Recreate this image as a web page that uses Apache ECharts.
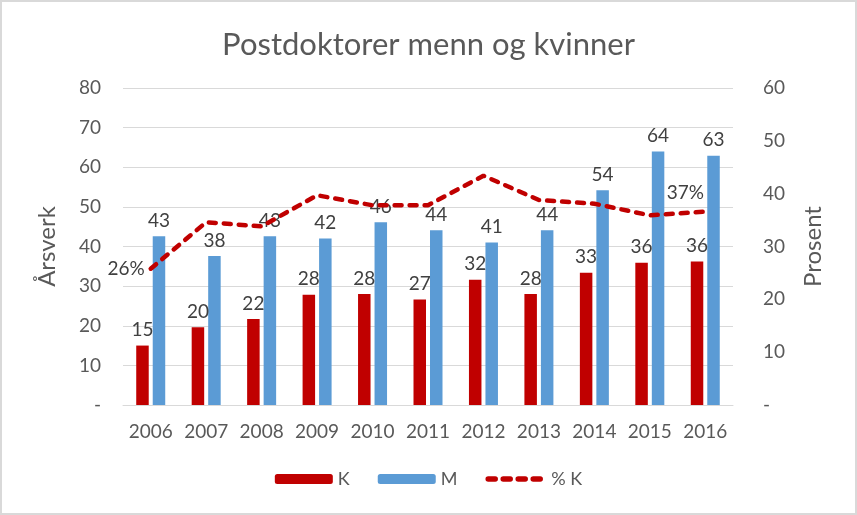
<!DOCTYPE html>
<html>
<head>
<meta charset="utf-8">
<script src="https://cdn.jsdelivr.net/npm/echarts@6/dist/echarts.min.js"></script>
<style>
html,body{margin:0;padding:0;background:#fff;}
#c{width:857px;height:515px;}
</style>
</head>
<body>
<div id="c"></div>
<script>
const categories = ['2006','2007','2008','2009','2010','2011','2012','2013','2014','2015','2016'];
const kValues = [15.0, 19.6, 21.7, 27.8, 28.0, 26.6, 31.6, 28.0, 33.4, 35.9, 36.2];
const mValues = [42.6, 37.6, 42.6, 42.0, 46.1, 44.1, 41.0, 44.1, 54.2, 64.0, 62.9];
const pctK = [25.8, 34.6, 33.8, 39.7, 37.8, 37.8, 43.4, 38.8, 38.1, 35.9, 36.6];
const leftTicks = {min: 0, max: 80, interval: 10};
const rightTicks = {min: 0, max: 60, interval: 10};

const FONT = 'Lato';
const TXT = '#595959';
const chart = echarts.init(document.getElementById('c'), null, {renderer: 'canvas'});

const pctData = pctK.map((v, i) => {
  if (i === 0) return {value: v, label: {show: true, position: 'left', distance: 6}};
  if (i === pctK.length - 1) return {value: v, label: {show: true, position: 'top', offset: [-20, -4]}};
  return v;
});

chart.setOption({
  animation: false,
  textStyle: {fontFamily: FONT},
  graphic: [{
    type: 'rect', left: 0, top: 0, z: -1,
    shape: {x: 1, y: 1, width: 855, height: 513},
    style: {fill: '#fff', stroke: '#d9d9d9', lineWidth: 2}
  }],
  title: {
    text: 'Postdoktorer menn og kvinner',
    left: 'center', top: 24,
    textStyle: {fontFamily: FONT, fontSize: 31, fontWeight: 'normal', color: TXT}
  },
  legend: {
    bottom: 22, left: 'center',
    itemWidth: 58, itemHeight: 10, itemGap: 28,
    textStyle: {fontFamily: FONT, fontSize: 18, color: TXT},
    data: ['K', 'M', {name: '% K', itemStyle: {opacity: 0},
      lineStyle: {width: 5.5, type: [7, 8], cap: 'round', color: '#c00000'}}]
  },
  grid: {left: 123, right: 124, top: 88, bottom: 110},
  xAxis: {
    type: 'category', data: categories,
    axisLine: {lineStyle: {color: '#d9d9d9'}},
    axisTick: {show: false},
    axisLabel: {fontFamily: FONT, fontSize: 19, color: TXT, margin: 17, interval: 0}
  },
  yAxis: [{
    type: 'value', min: leftTicks.min, max: leftTicks.max, interval: leftTicks.interval,
    name: 'Årsverk', nameLocation: 'middle', nameGap: 64,
    nameTextStyle: {fontFamily: FONT, fontSize: 24, color: TXT},
    axisLabel: {fontFamily: FONT, fontSize: 19, color: TXT, margin: 22,
      formatter: v => v === 0 ? '-' : v},
    splitLine: {lineStyle: {color: '#d9d9d9'}},
    axisLine: {show: false}, axisTick: {show: false}
  }, {
    type: 'value', min: rightTicks.min, max: rightTicks.max, interval: rightTicks.interval,
    name: 'Prosent', nameLocation: 'middle', nameGap: 68,
    nameTextStyle: {fontFamily: FONT, fontSize: 24, color: TXT},
    axisLabel: {fontFamily: FONT, fontSize: 19, color: TXT, margin: 30,
      formatter: v => v === 0 ? '-' : v},
    splitLine: {show: false},
    axisLine: {show: false}, axisTick: {show: false}
  }],
  series: [{
    name: 'K', type: 'bar', data: kValues,
    barWidth: 12.5, barGap: '32%',
    itemStyle: {color: '#c00000'},
    label: {show: true, position: 'top', distance: 6, fontFamily: FONT, fontSize: 19, color: '#404040',
      formatter: p => Math.round(p.value)}
  }, {
    name: 'M', type: 'bar', data: mValues,
    barWidth: 12.5, barGap: '32%',
    itemStyle: {color: '#5b9bd5'},
    label: {show: true, position: 'top', distance: 6, fontFamily: FONT, fontSize: 19, color: '#404040',
      formatter: p => Math.round(p.value)}
  }, {
    name: '% K', type: 'line', yAxisIndex: 1, data: pctData,
    symbol: 'circle', symbolSize: 0.01, showSymbol: true,
    lineStyle: {color: '#c00000', width: 4.5, type: [7, 8], cap: 'round'},
    itemStyle: {color: '#c00000'},
    label: {show: false, fontFamily: FONT, fontSize: 19, color: '#404040',
      formatter: p => Math.round(p.value) + '%'},
    z: 5
  }]
});
</script>
</body>
</html>
